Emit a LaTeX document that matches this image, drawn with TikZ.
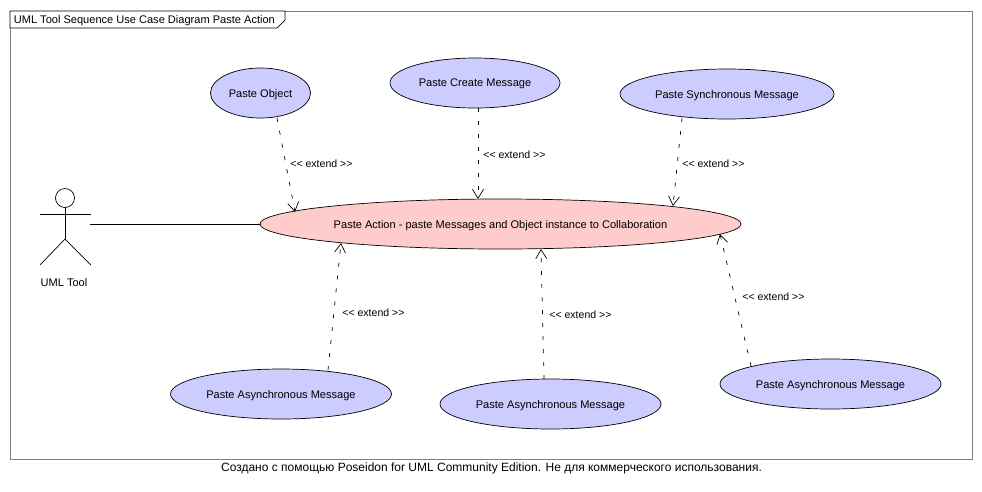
\documentclass[tikz,border=0pt]{standalone}
\usepackage{fontspec}
\setmainfont{Liberation Sans}
\usetikzlibrary{positioning,shapes.geometric,arrows.meta,calc}
\definecolor{ucblue}{RGB}{204,204,255}
\definecolor{ucpink}{RGB}{255,204,204}
\definecolor{framegray}{RGB}{128,128,128}

\begin{document}
\begin{tikzpicture}[x=1pt, y=-1pt, line width=0.7pt, font=\fontsize{11.05}{13}\selectfont,
    usecase/.style={draw, ellipse, fill=ucblue, inner sep=0pt, text depth=0pt, minimum height=50pt},
    extendline/.style={-{Straight Barb[length=9pt,width=11pt]}, dash pattern=on 4pt off 9pt},
    extendlabel/.style={anchor=west, inner sep=0pt, font=\fontsize{10.55}{12}\selectfont}]
  \useasboundingbox (0,0) rectangle (982,491);

  % frame and title tab
  \node[draw=framegray, rectangle, line width=1pt, inner sep=0pt, minimum width=962pt, minimum height=448pt] (frame) at (491,235) {};
  \draw[fill=white] (10,11) -- (285,11) -- (285,20) -- (277,28) -- (10,28) -- cycle;
  \node[anchor=west, inner sep=0pt, font=\fontsize{11.05}{13}\selectfont] (title) at (13.5,21) {UML Tool Sequence Use Case Diagram Paste Action};

  % use cases
  \node[usecase, fill=ucpink, minimum width=481pt] (action) at (500.5,224) {Paste Action - paste Messages and Object instance to Collaboration};
  \node[usecase, minimum width=100pt] (object) at (260.5,93) {Paste Object};
  \node[usecase, minimum width=170pt] (create) at (475,83) {Paste Create Message};
  \node[usecase, minimum width=214pt] (sync) at (727,94) {Paste Synchronous Message};
  \node[usecase, minimum width=221pt] (asyncA) at (281,394) {Paste Asynchronous Message};
  \node[usecase, minimum width=221pt] (asyncB) at (550.5,404) {Paste Asynchronous Message};
  \node[usecase, minimum width=221pt] (asyncC) at (830.5,384) {Paste Asynchronous Message};

  % actor
  \node[draw, circle, inner sep=0pt, minimum size=19pt] (head) at (65,198) {};
  \coordinate (hip) at (65,239);
  \coordinate (armL) at (40,214);
  \coordinate (armR) at (91,214);
  \coordinate (footL) at (40,265);
  \coordinate (footR) at (91,265);
  \coordinate (hand) at (90,224);
  \draw (head) -- (hip);
  \draw (armL) -- (armR);
  \draw (footL) -- (hip) -- (footR);
  \node (tool) at (64,283) {UML Tool};
  \draw (hand) -- (action.west);

  % extend relations
  \draw[extendline] ($(object)+(16.5,25)$) -- ($(action)+(-205.5,-12)$);
  \draw[extendline] ($(create)+(3,25)$) -- ($(action)+(-22.5,-25)$);
  \draw[extendline] ($(sync)+(-45,24)$) -- ($(action)+(172.5,-18)$);
  \draw[extendline] ($(asyncA)+(47,-24)$) -- ($(action)+(-159.5,19)$);
  \draw[extendline] ($(asyncB)+(-6.5,-25)$) -- ($(action)+(40.5,25)$);
  \draw[extendline] ($(asyncC)+(-79.5,-18)$) -- ($(action)+(219.5,10)$);

  \node[extendlabel] (lblA) at (290,164) {<{}< extend >{}>};
  \node[extendlabel] (lblB) at (483,155) {<{}< extend >{}>};
  \node[extendlabel] (lblC) at (682,164) {<{}< extend >{}>};
  \node[extendlabel] (lblD) at (342,313) {<{}< extend >{}>};
  \node[extendlabel] (lblE) at (549,315) {<{}< extend >{}>};
  \node[extendlabel] (lblF) at (742,297) {<{}< extend >{}>};

  \node[font=\fontsize{12}{14}\selectfont] (note) at (491.5,468) {Создано с помощью Poseidon for UML Community Edition. Не для коммерческого использования.};
\end{tikzpicture}
\end{document}
